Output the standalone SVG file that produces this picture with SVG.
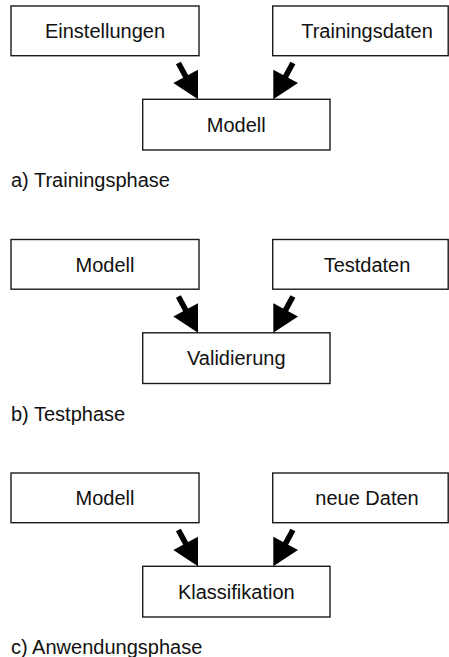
<svg xmlns="http://www.w3.org/2000/svg" width="449" height="657" viewBox="0 0 449 657">
  <defs>
    <style>
      .box { fill: #ffffff; stroke: #1a1a1a; stroke-width: 1.4; }
      .lbl { font-family: "Liberation Sans", Arial, sans-serif; font-size: 20px; fill: #111111; text-anchor: middle; }
      .cap { font-family: "Liberation Sans", Arial, sans-serif; font-size: 20px; fill: #111111; }
      .arrow { stroke: #000000; stroke-width: 5.6; fill: none; marker-end: url(#head); }
    </style>
    <marker id="head" markerUnits="userSpaceOnUse" markerWidth="30" markerHeight="30" refX="6" refY="14" orient="auto" overflow="visible">
      <path d="M0,0 L26,14 L0,28 Z" fill="#000000"/>
    </marker>
  </defs>
  <rect width="449" height="657" fill="#ffffff"/>

  <!-- a) training phase -->
  <g id="phase-a">
    <g id="a-einstellungen">
      <rect class="box" x="11" y="6" width="188" height="49.7"/>
      <text class="lbl" x="105" y="38">Einstellungen</text>
    </g>
    <g id="a-trainingsdaten">
      <rect class="box" x="272.7" y="6" width="175.5" height="49.7"/>
      <text class="lbl" x="367" y="38">Trainingsdaten</text>
    </g>
    <g id="a-modell">
      <rect class="box" x="142.7" y="99.3" width="187.3" height="50.7"/>
      <text class="lbl" x="236.3" y="131.8">Modell</text>
    </g>
    <g id="a-connectors">
      <line class="arrow" x1="178.4" y1="63" x2="188.5" y2="81.7"/>
      <line class="arrow" x1="292.9" y1="63" x2="282.8" y2="81.7"/>
    </g>
    <text class="cap" x="11" y="187">a) Trainingsphase</text>
  </g>

  <!-- b) test phase -->
  <g id="phase-b" transform="translate(0,233.5)">
    <g id="b-modell">
      <rect class="box" x="11" y="6" width="188" height="49.7"/>
      <text class="lbl" x="105" y="38">Modell</text>
    </g>
    <g id="b-testdaten">
      <rect class="box" x="272.7" y="6" width="175.5" height="49.7"/>
      <text class="lbl" x="367" y="38">Testdaten</text>
    </g>
    <g id="b-validierung">
      <rect class="box" x="142.7" y="99.3" width="187.3" height="50.7"/>
      <text class="lbl" x="236.3" y="131.8">Validierung</text>
    </g>
    <g id="b-connectors">
      <line class="arrow" x1="178.4" y1="63" x2="188.5" y2="81.7"/>
      <line class="arrow" x1="292.9" y1="63" x2="282.8" y2="81.7"/>
    </g>
    <text class="cap" x="11" y="187">b) Testphase</text>
  </g>

  <!-- c) application phase -->
  <g id="phase-c" transform="translate(0,467)">
    <g id="c-modell">
      <rect class="box" x="11" y="6" width="188" height="49.7"/>
      <text class="lbl" x="105" y="38">Modell</text>
    </g>
    <g id="c-neue-daten">
      <rect class="box" x="272.7" y="6" width="175.5" height="49.7"/>
      <text class="lbl" x="367" y="38">neue Daten</text>
    </g>
    <g id="c-klassifikation">
      <rect class="box" x="142.7" y="99.3" width="187.3" height="50.7"/>
      <text class="lbl" x="236.3" y="131.8">Klassifikation</text>
    </g>
    <g id="c-connectors">
      <line class="arrow" x1="178.4" y1="63" x2="188.5" y2="81.7"/>
      <line class="arrow" x1="292.9" y1="63" x2="282.8" y2="81.7"/>
    </g>
    <text class="cap" x="11" y="187">c) Anwendungsphase</text>
  </g>
</svg>
